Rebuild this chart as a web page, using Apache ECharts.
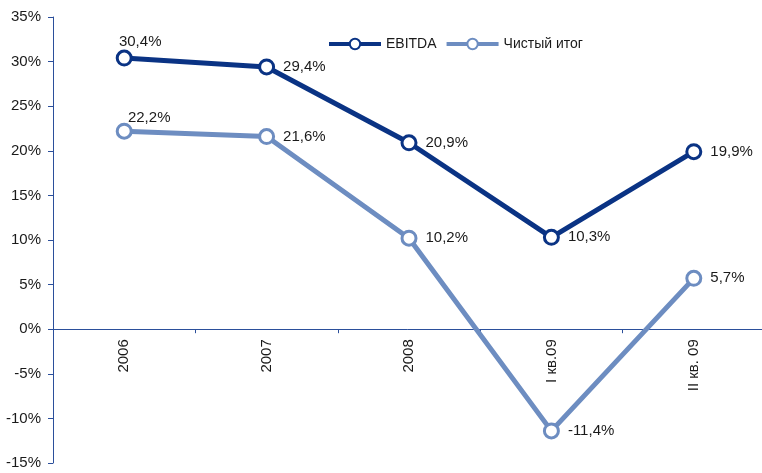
<!DOCTYPE html>
<html>
<head>
<meta charset="utf-8">
<script src="https://cdn.jsdelivr.net/npm/echarts@6/dist/echarts.min.js"></script>
<style>
  html, body { margin: 0; padding: 0; background: #fff; }
  #chart { width: 762px; height: 473px; }
</style>
</head>
<body>
<div id="chart"></div>
<script>
// данные
const categories = ["2006", "2007", "2008", "I кв.09", "II кв. 09"];
const ebitda = [30.4, 29.4, 20.9, 10.3, 19.9];
const netResult = [22.2, 21.6, 10.2, -11.4, 5.7];
const seriesNames = ["EBITDA", "Чистый итог"];
const yMin = -15, yMax = 35, yStep = 5;

const axisColor = "#2B4F9B";
const textColor = "#1a1a1a";
const font = "Liberation Sans";

const fmt = v => String(v.toFixed(1)).replace(".", ",") + "%";

// размеры сетки
const gridTop = 17, gridBottom = 10, chartH = 473;
const plotH = chartH - gridTop - gridBottom;
// ось X проходит через 0 — сдвигаем её вверх от низа сетки
const xOffset = -plotH * (0 - yMin) / (yMax - yMin);

const chart = echarts.init(document.getElementById("chart"));

const makeSeries = (name, data, color, firstOffset) => ({
  name: name,
  type: "line",
  data: data.map((v, i) => ({
    value: v,
    label: i === 0 ? { position: "top", offset: firstOffset } : undefined
  })),
  symbol: "circle",
  symbolSize: 14,
  showAllSymbol: true,
  lineStyle: { color: color, width: 5 },
  itemStyle: { color: "#fff", borderColor: color, borderWidth: 3 },
  label: {
    show: true,
    position: "right",
    distance: 8,
    formatter: p => fmt(p.value),
    color: textColor,
    fontFamily: font,
    fontSize: 15
  },
  z: name === "EBITDA" ? 3 : 2
});

chart.setOption({
  animation: false,
  textStyle: { fontFamily: font },
  legend: {
    left: 322,
    top: 32,
    itemWidth: 52,
    itemHeight: 13,
    itemGap: 8,
    lineStyle: { width: 4 },
    textStyle: { color: textColor, fontSize: 14, fontFamily: font },
    data: seriesNames
  },
  grid: {
    left: 53, right: -3, top: gridTop, bottom: gridBottom,
    containLabel: false, outerBoundsMode: "none"
  },
  xAxis: {
    type: "category",
    data: categories,
    boundaryGap: true,
    offset: xOffset,
    axisLine: { onZero: false, lineStyle: { color: axisColor, width: 1 } },
    axisTick: { show: true, length: 4, lineStyle: { color: axisColor } },
    axisLabel: {
      rotate: 90,
      margin: 10,
      color: textColor,
      fontSize: 15,
      fontFamily: font
    },
    splitLine: { show: false }
  },
  yAxis: {
    type: "value",
    min: yMin,
    max: yMax,
    interval: yStep,
    axisLine: { show: true, lineStyle: { color: axisColor, width: 1 } },
    axisTick: { show: true, length: 5, lineStyle: { color: axisColor } },
    axisLabel: {
      formatter: v => v + "%",
      color: textColor,
      fontSize: 15,
      fontFamily: font,
      margin: 12
    },
    splitLine: { show: false }
  },
  series: [
    makeSeries(seriesNames[0], ebitda, "#0A3384", [16, 8]),
    makeSeries(seriesNames[1], netResult, "#6D8DC1", [25, 11])
  ]
});
</script>
</body>
</html>
